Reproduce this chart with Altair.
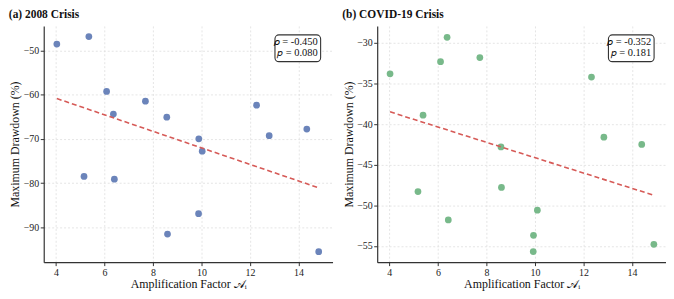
import altair as alt
import pandas as pd

# ---- data ----
amp_2008 = [4.04, 5.16, 5.36, 6.09, 6.37, 6.41, 7.69, 8.57, 8.60, 9.88, 9.89, 10.03, 12.27, 12.79, 14.34, 14.83]
dd_2008 = [-48.6, -78.5, -46.9, -59.3, -64.4, -79.1, -61.5, -65.1, -91.5, -86.9, -70.0, -72.8, -62.4, -69.3, -67.8, -95.5]

amp_covid = [4.03, 5.18, 5.39, 6.11, 6.38, 6.43, 7.73, 8.60, 8.62, 9.93, 9.94, 10.10, 12.33, 12.84, 14.40, 14.90]
dd_covid = [-33.8, -48.3, -38.9, -32.3, -29.3, -51.8, -31.8, -42.8, -47.8, -55.7, -53.7, -50.6, -34.2, -41.6, -42.5, -54.8]

x_ticks = [4, 6, 8, 10, 12, 14]
y_ticks_2008 = [-90, -80, -70, -60, -50]
y_ticks_covid = [-55, -50, -45, -40, -35, -30]

titles = ["(a) 2008 Crisis", "(b) COVID-19 Crisis"]
rho_text = ["𝜌 = -0.450", "𝜌 = -0.352"]
p_text = ["𝑝 = 0.080", "𝑝 = 0.181"]

SERIF = "Liberation Serif"
W, H = 291, 238


def panel(xs, ys, color, title, ydom, yticks, rho, pv):
    df = pd.DataFrame({"amp": xs, "dd": ys})
    base = alt.Chart(df)
    xenc = alt.X(
        "amp:Q",
        scale=alt.Scale(domain=[3.5, 15.4], nice=False, zero=False),
        axis=alt.Axis(values=x_ticks, title="Amplification Factor 𝒜ᵢ", format="d"),
    )
    yenc = alt.Y(
        "dd:Q",
        scale=alt.Scale(domain=ydom, nice=False, zero=False),
        axis=alt.Axis(values=yticks, title="Maximum Drawdown (%)", format="d"),
    )
    pts = base.mark_circle(size=46, opacity=1, color=color).encode(x=xenc, y=yenc)
    reg = (
        base.transform_regression("amp", "dd")
        .mark_line(color="#d65a57", strokeDash=[5, 3], strokeWidth=1.6)
        .encode(x="amp:Q", y="dd:Q")
    )
    sdf = pd.DataFrame({"rho": [rho], "p": [pv]})
    sb = alt.Chart(sdf)
    box = sb.mark_rect(
        fill="white", stroke="#333333", strokeWidth=1.1, cornerRadius=4
    ).encode(x=alt.value(W - 58), x2=alt.value(W - 12), y=alt.value(9), y2=alt.value(36))
    t1 = sb.mark_text(align="right", baseline="middle", font=SERIF, fontSize=10.5, color="#111").encode(
        x=alt.value(W - 15), y=alt.value(16), text="rho:N"
    )
    t2 = sb.mark_text(align="right", baseline="middle", font=SERIF, fontSize=10.5, color="#111").encode(
        x=alt.value(W - 15), y=alt.value(27.5), text="p:N"
    )
    return alt.layer(pts, reg, box, t1, t2).properties(
        width=W,
        height=H,
        title=alt.TitleParams(
            title, anchor="start", font=SERIF, fontSize=11.5, fontWeight="bold",
            color="#111", offset=5.5,
        ),
    )


left = panel(amp_2008, dd_2008, "#6b84ba", titles[0], [-97.85, -44.5], y_ticks_2008, rho_text[0], p_text[0])
right = panel(amp_covid, dd_covid, "#78b98a", titles[1], [-57.0, -27.9], y_ticks_covid, rho_text[1], p_text[1])

chart = (
    alt.hconcat(left, right, spacing=9)
    .properties(padding={"left": 0, "top": 0, "right": 0, "bottom": 0})
    .configure_view(stroke=None)
    .configure_axis(
        grid=True,
        gridColor="#dedede",
        gridDash=[2, 2],
        gridWidth=0.8,
        domainColor="#333333",
        domainWidth=1.2,
        tickColor="#333333",
        tickSize=3.5,
        labelFont=SERIF,
        labelFontSize=10,
        labelColor="#222222",
        titleFont=SERIF,
        titleFontSize=12,
        titleFontWeight="normal",
        titleColor="#111111",
        labelPadding=1.5,
        titlePadding=1.5,
    )
)

chart.save("out.html", embed_options={"renderer": "svg", "actions": False})
